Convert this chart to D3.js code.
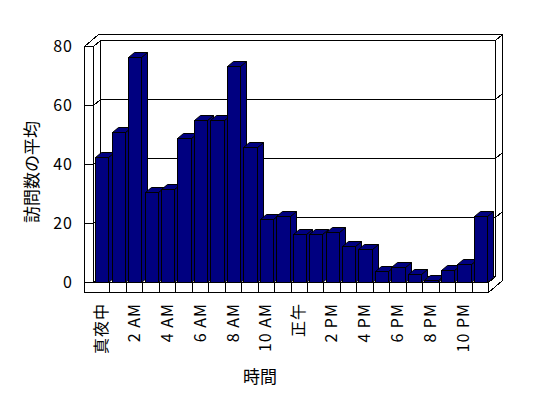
<!DOCTYPE html>
<html>
<head>
<meta charset="utf-8">
<script src="https://cdn.jsdelivr.net/npm/d3@7"></script>
<style>
    body { margin: 0; background: #fff; }
    text { font-family: "Noto Sans CJK JP", sans-serif; fill: #000; }
</style>
</head>
<body>
<svg id="chart" width="548" height="398"></svg>
<script>
const categories = ["真夜中", "1 AM", "2 AM", "3 AM", "4 AM", "5 AM", "6 AM", "7 AM", "8 AM", "9 AM", "10 AM", "11 AM",
    "正午", "1 PM", "2 PM", "3 PM", "4 PM", "5 PM", "6 PM", "7 PM", "8 PM", "9 PM", "10 PM", "11 PM"];
const tickLabels = ["真夜中", "2 AM", "4 AM", "6 AM", "8 AM", "10 AM", "正午", "2 PM", "4 PM", "6 PM", "8 PM", "10 PM"];
const visits = [42.5, 50.8, 76.2, 30.4, 31.4, 48.7, 54.9, 54.9, 73.2, 45.7, 21.4, 22.4,
    16.2, 16.2, 17.1, 12.1, 11.1, 3.8, 5.0, 2.8, 0.8, 4.0, 6.0, 22.3];
const yTicks = [0, 20, 40, 60, 80];

const svg = d3.select("#chart");
const navy = "#000080";

// front plane of the box, and the depth step to the back wall
const x = d3.scaleBand().domain(categories).range([93, 488]);
const y = d3.scaleLinear().domain([0, 80]).range([282, 46]);
const dx = 7, dy = -6;
const wallW = 9, floorH = 10;

const xl = x.range()[0], xr = x.range()[1];
const yb = y(0), yt = y(80);

function p(v) { return Math.round(v) + 0.5; }
function poly(pts) { return "M" + pts.map(q => p(q[0]) + "," + p(q[1])).join("L") + "Z"; }
function seg(pts) { return "M" + pts.map(q => p(q[0]) + "," + p(q[1])).join("L"); }

const walls = svg.append("g")
    .attr("fill", "#fff")
    .attr("stroke", "#000")
    .attr("stroke-width", 1)
    .attr("shape-rendering", "crispEdges");

// top of the L shaped wall
walls.append("path").attr("d", poly([
    [xl - wallW, yt], [xl, yt], [xl + dx, yt + dy], [xr + dx, yt + dy],
    [xr + 2 * dx, yt + 2 * dy], [xl - wallW + 2 * dx, yt + 2 * dy]]));
// back wall front face
walls.append("path").attr("d", poly([
    [xl + dx, yt + dy], [xr + dx, yt + dy], [xr + dx, yb + dy], [xl + dx, yb + dy]]));
// left wall inner face
walls.append("path").attr("d", poly([
    [xl, yt], [xl + dx, yt + dy], [xl + dx, yb + dy], [xl, yb]]));
// floor top
walls.append("path").attr("d", poly([
    [xl, yb], [xr, yb], [xr + dx, yb + dy], [xl + dx, yb + dy]]));
// front faces of left wall and floor
walls.append("path").attr("d", poly([
    [xl - wallW, yt], [xl, yt], [xl, yb], [xr, yb], [xr, yb + floorH], [xl - wallW, yb + floorH]]));
// right face
walls.append("path").attr("d", poly([
    [xr, yb], [xr + dx, yb + dy], [xr + dx, yt + dy], [xr + 2 * dx, yt + 2 * dy],
    [xr + 2 * dx, yb + floorH + 2 * dy], [xr, yb + floorH]]));

// gridlines wrapping round the walls
const grid = svg.append("g")
    .attr("fill", "none")
    .attr("stroke", "#000")
    .attr("shape-rendering", "crispEdges");

grid.selectAll(".tick")
    .data(yTicks)
    .join("path")
    .attr("d", v => v === 0
        ? seg([[xl - wallW, y(v)], [xl, y(v)]])
        : seg([[xl - wallW, y(v)], [xl, y(v)], [xl + dx, y(v) + dy],
            [xr + dx, y(v) + dy], [xr + 2 * dx, y(v) + 2 * dy]]));

// category dividers on the floor front
grid.selectAll(".div")
    .data(categories.slice(1))
    .join("path")
    .attr("d", c => seg([[x(c), yb], [x(c), yb + floorH]]));

// bars
const bw = x.bandwidth();
const barW = bw * 0.81, barOff = bw * 0.13;
const bdx = 6, bdy = -5;

const bars = svg.append("g")
    .attr("fill", navy)
    .attr("stroke", "#000")
    .attr("stroke-linejoin", "miter");

bars.selectAll("g")
    .data(categories.map((c, i) => ({c: c, v: visits[i]})))
    .join("g")
    .each(function (d) {
        const g = d3.select(this);
        const a = x(d.c) + barOff, b = a + barW;
        const top = y(d.v);
        g.append("path").attr("d", poly([[b, top], [b + bdx, top + bdy], [b + bdx, yb + bdy], [b, yb]]));
        g.append("path").attr("d", poly([[a, top], [a + bdx, top + bdy], [b + bdx, top + bdy], [b, top]]));
        g.append("path").attr("d", poly([[a, top], [b, top], [b, yb], [a, yb]]))
            .attr("shape-rendering", "crispEdges");
    });

// y axis labels
svg.append("g")
    .selectAll("text")
    .data(yTicks)
    .join("text")
    .attr("x", 73)
    .attr("y", v => y(v))
    .attr("dy", "0.35em")
    .attr("text-anchor", "end")
    .style("font-size", "16px")
    .style("letter-spacing", "1px")
    .text(v => v);

// x axis labels, rotated
svg.append("g")
    .selectAll("text")
    .data(tickLabels)
    .join("text")
    .attr("transform", c => "translate(" + (x(c) + bw / 2) + "," + 303 + ") rotate(-90)")
    .attr("dy", "0.35em")
    .attr("text-anchor", "end")
    .style("font-size", "16px")
    .style("letter-spacing", "1px")
    .text(c => c);

svg.append("text")
    .attr("transform", "translate(32,172) rotate(-90)")
    .attr("dy", "0.35em")
    .attr("text-anchor", "middle")
    .style("font-size", "17px")
    .text("訪問数の平均");

svg.append("text")
    .attr("x", 260)
    .attr("y", 377)
    .attr("dy", "0.35em")
    .attr("text-anchor", "middle")
    .style("font-size", "17px")
    .text("時間");
</script>
</body>
</html>
